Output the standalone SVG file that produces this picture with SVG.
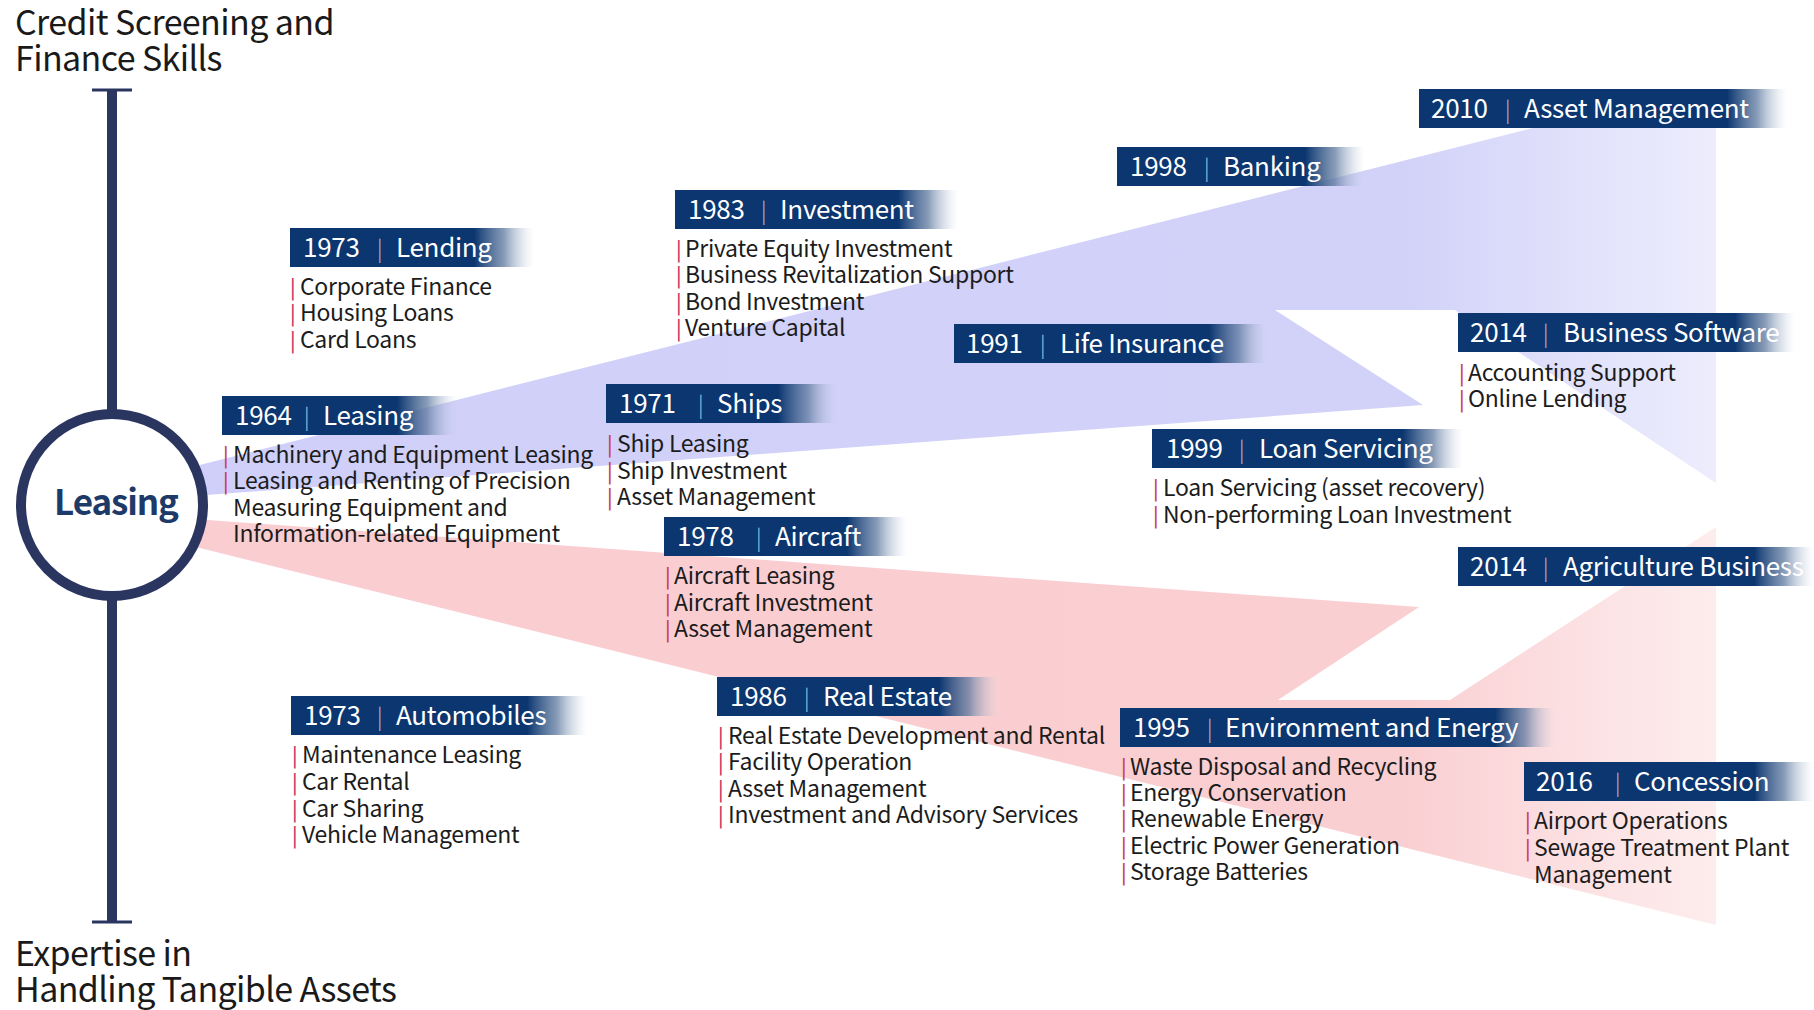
<svg xmlns="http://www.w3.org/2000/svg" width="1814" height="1010" viewBox="0 0 1814 1010">
<defs>
<linearGradient id="blueG" gradientUnits="userSpaceOnUse" x1="180" y1="0" x2="1716" y2="0">
<stop offset="0" stop-color="#cfcff9"/><stop offset="0.8" stop-color="#d2d2f9"/><stop offset="1" stop-color="#d6d6fa" stop-opacity="0.45"/>
</linearGradient>
<linearGradient id="pinkG" gradientUnits="userSpaceOnUse" x1="180" y1="0" x2="1716" y2="0">
<stop offset="0" stop-color="#facdd0"/><stop offset="0.8" stop-color="#facfd2"/><stop offset="1" stop-color="#fbd6d8" stop-opacity="0.45"/>
</linearGradient>
<linearGradient id="fade" x1="0" y1="0" x2="1" y2="0">
<stop offset="0" stop-color="#0b3670"/><stop offset="0.5" stop-color="#5f7aa0" stop-opacity="0.75"/><stop offset="1" stop-color="#c8d2e2" stop-opacity="0"/>
</linearGradient>
</defs>
<style>
text{font-family:"Noto Sans CJK JP","Noto Sans",sans-serif}
.title{font-size:34px;letter-spacing:-0.6px;fill:#1a1a1a}
.bar{fill:#0b3670}
.fd{fill:url(#fade)}
.lt{font-size:26px;letter-spacing:-0.3px;fill:#ffffff}
.sep{font-size:22px;fill:#b9c5dc;font-weight:300}
.it{font-size:23px;letter-spacing:-0.3px;fill:#1c1c1c}
.b{font-size:20px;fill:#cc3a62;font-weight:500}
.axis{stroke:#2b3660;fill:none}
</style>
<rect width="1814" height="1010" fill="#ffffff"/>

<g id="connectors">
<polygon id="band-blue" fill="url(#blueG)" points="180,470 1533,128 1716,128 1716,483 1455,310 1275,310 1423,405 180,497"/>
<polygon id="band-pink" fill="url(#pinkG)" points="180,518 1419,607 1278,700 1450,700 1716,527 1716,925 180,543"/>
</g>

<g id="titles">
<text class="title" x="15" y="35">Credit Screening and</text>
<text class="title" x="15" y="71">Finance Skills</text>
<text class="title" x="15" y="966">Expertise in</text>
<text class="title" x="15" y="1002">Handling Tangible Assets</text>
</g>

<g id="axis">
<line class="axis" x1="112" y1="89" x2="112" y2="412" stroke-width="10"/>
<line class="axis" x1="92" y1="90" x2="132" y2="90" stroke-width="3"/>
<line class="axis" x1="112" y1="598" x2="112" y2="922" stroke-width="10"/>
<line class="axis" x1="92" y1="922" x2="132" y2="922" stroke-width="3"/>
</g>

<g id="n-leasing-core">
<circle cx="112" cy="505" r="91" fill="#ffffff" stroke="#2b3660" stroke-width="10"/>
<text x="116" y="515" text-anchor="middle" style="font-size:35px;letter-spacing:-1.1px;font-weight:700;fill:#1e3a68">Leasing</text>
</g>

<g id="n-1964-leasing">
<rect class="bar" x="222" y="396" width="176" height="39"/><rect class="fd" x="397" y="396" width="60" height="39"/>
<text class="lt" y="425"><tspan x="235">1964</tspan><tspan class="sep" x="304">|</tspan><tspan x="323">Leasing</tspan></text>
<text class="it" y="463"><tspan class="b" x="223">|</tspan><tspan x="233">Machinery and Equipment Leasing</tspan></text>
<text class="it" y="489"><tspan class="b" x="223">|</tspan><tspan x="233">Leasing and Renting of Precision</tspan></text>
<text class="it" x="233" y="516">Measuring Equipment and</text>
<text class="it" x="233" y="542">Information-related Equipment</text>
</g>

<g id="n-1973-lending">
<rect class="bar" x="290" y="228" width="185" height="39"/><rect class="fd" x="474" y="228" width="60" height="39"/>
<text class="lt" y="257"><tspan x="303">1973</tspan><tspan class="sep" x="377">|</tspan><tspan x="396">Lending</tspan></text>
<text class="it" y="295"><tspan class="b" x="290">|</tspan><tspan x="300">Corporate Finance</tspan></text>
<text class="it" y="321"><tspan class="b" x="290">|</tspan><tspan x="300">Housing Loans</tspan></text>
<text class="it" y="348"><tspan class="b" x="290">|</tspan><tspan x="300">Card Loans</tspan></text>
</g>

<g id="n-1983-investment">
<rect class="bar" x="675" y="190" width="224" height="39"/><rect class="fd" x="898" y="190" width="60" height="39"/>
<text class="lt" y="219"><tspan x="688">1983</tspan><tspan class="sep" x="761">|</tspan><tspan x="780">Investment</tspan></text>
<text class="it" y="257"><tspan class="b" x="676">|</tspan><tspan x="685">Private Equity Investment</tspan></text>
<text class="it" y="283"><tspan class="b" x="676">|</tspan><tspan x="685">Business Revitalization Support</tspan></text>
<text class="it" y="310"><tspan class="b" x="676">|</tspan><tspan x="685">Bond Investment</tspan></text>
<text class="it" y="336"><tspan class="b" x="676">|</tspan><tspan x="685">Venture Capital</tspan></text>
</g>

<g id="n-1971-ships">
<rect class="bar" x="606" y="384" width="173" height="39"/><rect class="fd" x="778" y="384" width="60" height="39"/>
<text class="lt" y="413"><tspan x="619">1971</tspan><tspan class="sep" x="698">|</tspan><tspan x="717">Ships</tspan></text>
<text class="it" y="452"><tspan class="b" x="607">|</tspan><tspan x="617">Ship Leasing</tspan></text>
<text class="it" y="479"><tspan class="b" x="607">|</tspan><tspan x="617">Ship Investment</tspan></text>
<text class="it" y="505"><tspan class="b" x="607">|</tspan><tspan x="617">Asset Management</tspan></text>
</g>

<g id="n-1978-aircraft">
<rect class="bar" x="664" y="517" width="184" height="39"/><rect class="fd" x="847" y="517" width="60" height="39"/>
<text class="lt" y="546"><tspan x="677">1978</tspan><tspan class="sep" x="756">|</tspan><tspan x="775">Aircraft</tspan></text>
<text class="it" y="584"><tspan class="b" x="665">|</tspan><tspan x="674">Aircraft Leasing</tspan></text>
<text class="it" y="611"><tspan class="b" x="665">|</tspan><tspan x="674">Aircraft Investment</tspan></text>
<text class="it" y="637"><tspan class="b" x="665">|</tspan><tspan x="674">Asset Management</tspan></text>
</g>

<g id="n-1973-automobiles">
<rect class="bar" x="291" y="696" width="237" height="39"/><rect class="fd" x="527" y="696" width="60" height="39"/>
<text class="lt" y="725"><tspan x="304">1973</tspan><tspan class="sep" x="377">|</tspan><tspan x="396">Automobiles</tspan></text>
<text class="it" y="763"><tspan class="b" x="292">|</tspan><tspan x="302">Maintenance Leasing</tspan></text>
<text class="it" y="790"><tspan class="b" x="292">|</tspan><tspan x="302">Car Rental</tspan></text>
<text class="it" y="817"><tspan class="b" x="292">|</tspan><tspan x="302">Car Sharing</tspan></text>
<text class="it" y="843"><tspan class="b" x="292">|</tspan><tspan x="302">Vehicle Management</tspan></text>
</g>

<g id="n-1986-real-estate">
<rect class="bar" x="717" y="677" width="223" height="39"/><rect class="fd" x="939" y="677" width="60" height="39"/>
<text class="lt" y="706"><tspan x="730">1986</tspan><tspan class="sep" x="804">|</tspan><tspan x="823">Real Estate</tspan></text>
<text class="it" y="744"><tspan class="b" x="718">|</tspan><tspan x="728">Real Estate Development and Rental</tspan></text>
<text class="it" y="770"><tspan class="b" x="718">|</tspan><tspan x="728">Facility Operation</tspan></text>
<text class="it" y="797"><tspan class="b" x="718">|</tspan><tspan x="728">Asset Management</tspan></text>
<text class="it" y="823"><tspan class="b" x="718">|</tspan><tspan x="728">Investment and Advisory Services</tspan></text>
</g>

<g id="n-1991-life-insurance">
<rect class="bar" x="954" y="324" width="256" height="39"/><rect class="fd" x="1209" y="324" width="60" height="39"/>
<text class="lt" y="353"><tspan x="966">1991</tspan><tspan class="sep" x="1040">|</tspan><tspan x="1060">Life Insurance</tspan></text>
</g>

<g id="n-1998-banking">
<rect class="bar" x="1117" y="147" width="189" height="39"/><rect class="fd" x="1305" y="147" width="60" height="39"/>
<text class="lt" y="176"><tspan x="1130">1998</tspan><tspan class="sep" x="1204">|</tspan><tspan x="1223">Banking</tspan></text>
</g>

<g id="n-1999-loan-servicing">
<rect class="bar" x="1152" y="429" width="252" height="39"/><rect class="fd" x="1403" y="429" width="60" height="39"/>
<text class="lt" y="458"><tspan x="1166">1999</tspan><tspan class="sep" x="1239">|</tspan><tspan x="1259">Loan Servicing</tspan></text>
<text class="it" y="496"><tspan class="b" x="1153">|</tspan><tspan x="1163">Loan Servicing (asset recovery)</tspan></text>
<text class="it" y="523"><tspan class="b" x="1153">|</tspan><tspan x="1163">Non-performing Loan Investment</tspan></text>
</g>

<g id="n-2010-asset-management">
<rect class="bar" x="1419" y="89" width="309" height="39"/><rect class="fd" x="1727" y="89" width="60" height="39"/>
<text class="lt" y="118"><tspan x="1431">2010</tspan><tspan class="sep" x="1505">|</tspan><tspan x="1524">Asset Management</tspan></text>
</g>

<g id="n-2014-business-software">
<rect class="bar" x="1458" y="313" width="278" height="39"/><rect class="fd" x="1735" y="313" width="60" height="39"/>
<text class="lt" y="342"><tspan x="1470">2014</tspan><tspan class="sep" x="1543">|</tspan><tspan x="1563">Business Software</tspan></text>
<text class="it" y="381"><tspan class="b" x="1459">|</tspan><tspan x="1468">Accounting Support</tspan></text>
<text class="it" y="407"><tspan class="b" x="1459">|</tspan><tspan x="1468">Online Lending</tspan></text>
</g>

<g id="n-2014-agriculture">
<rect class="bar" x="1458" y="547" width="297" height="39"/><rect class="fd" x="1754" y="547" width="60" height="39"/>
<text class="lt" y="576"><tspan x="1470">2014</tspan><tspan class="sep" x="1543">|</tspan><tspan x="1563">Agriculture Business</tspan></text>
</g>

<g id="n-1995-environment-energy">
<rect class="bar" x="1120" y="708" width="376" height="39"/><rect class="fd" x="1495" y="708" width="60" height="39"/>
<text class="lt" y="737"><tspan x="1133">1995</tspan><tspan class="sep" x="1207">|</tspan><tspan x="1225">Environment and Energy</tspan></text>
<text class="it" y="775"><tspan class="b" x="1121">|</tspan><tspan x="1130">Waste Disposal and Recycling</tspan></text>
<text class="it" y="801"><tspan class="b" x="1121">|</tspan><tspan x="1130">Energy Conservation</tspan></text>
<text class="it" y="827"><tspan class="b" x="1121">|</tspan><tspan x="1130">Renewable Energy</tspan></text>
<text class="it" y="854"><tspan class="b" x="1121">|</tspan><tspan x="1130">Electric Power Generation</tspan></text>
<text class="it" y="880"><tspan class="b" x="1121">|</tspan><tspan x="1130">Storage Batteries</tspan></text>
</g>

<g id="n-2016-concession">
<rect class="bar" x="1524" y="762" width="231" height="39"/><rect class="fd" x="1754" y="762" width="60" height="39"/>
<text class="lt" y="791"><tspan x="1536">2016</tspan><tspan class="sep" x="1615">|</tspan><tspan x="1634">Concession</tspan></text>
<text class="it" y="829"><tspan class="b" x="1525">|</tspan><tspan x="1534">Airport Operations</tspan></text>
<text class="it" y="856"><tspan class="b" x="1525">|</tspan><tspan x="1534">Sewage Treatment Plant</tspan></text>
<text class="it" x="1534" y="883">Management</text>
</g>
</svg>
